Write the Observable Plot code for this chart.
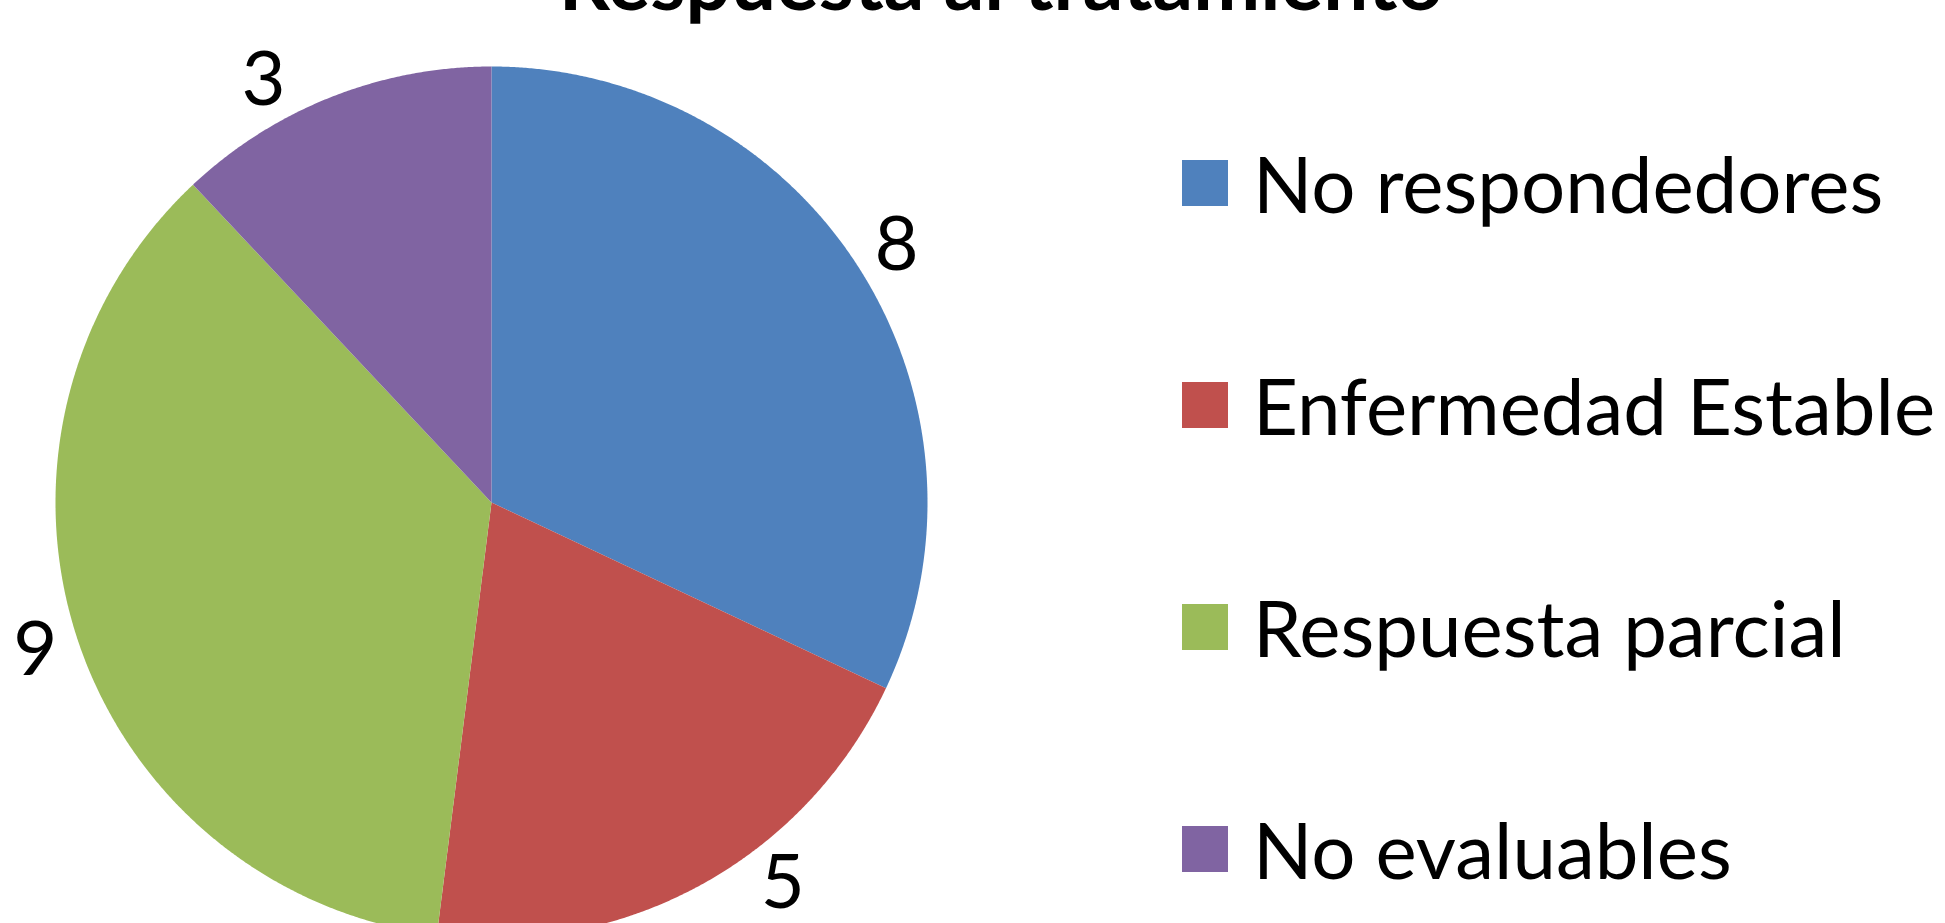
<!DOCTYPE html>
<html>
<head>
<meta charset="utf-8">
<script src="https://cdn.jsdelivr.net/npm/d3@7"></script>
<script src="https://cdn.jsdelivr.net/npm/@observablehq/plot@0.6"></script>
<style>
  html, body { margin: 0; padding: 0; background: #fff; }
  #wrap { position: relative; width: 1945px; height: 923px; overflow: hidden; font-family: Lato, "Open Sans", sans-serif; }
  #legend { position: absolute; left: 1182px; top: 0; }
  .item { position: absolute; left: 0; display: flex; align-items: center; white-space: nowrap; transform: translateY(-50%); }
  .sw { width: 46px; height: 46px; flex: none; }
  .lab { margin-left: 25px; font-size: 78px; color: #000; line-height: 1; }
</style>
</head>
<body>
<div id="wrap"></div>
<script>
// ---- data ----
const title = "Respuesta al tratamiento";
const categories = ["No respondedores", "Enfermedad Estable", "Respuesta parcial", "No evaluables"];
const values = [8, 5, 9, 3];
const colors = ["#4F81BD", "#C0504D", "#9BBB59", "#8064A2"];

// ---- layout ----
const W = 1945, H = 923;
const cx = 491, cy = 502, R = 436;         // pie centre and radius (px)
const labelR = 1.1;                         // label radius (in pie radii)
const yTop = (cy - 80) / R, yBot = -(H - 40 - cy) / R;

const pie = d3.pie().sort(null).value(d => d.value)(categories.map((c, i) => ({name: c, value: values[i]})));

const pts = [];
for (const s of pie) {
  const a0 = s.startAngle, a1 = s.endAngle;
  const n = Math.max(2, Math.ceil((a1 - a0) / (Math.PI / 720)));
  pts.push({name: s.data.name, x: 0, y: 0});
  for (let k = 0; k <= n; k++) {
    const a = a0 + (a1 - a0) * k / n;
    pts.push({name: s.data.name, x: Math.sin(a), y: Math.cos(a)});
  }
  pts.push({name: s.data.name, x: 0, y: 0});
}

const labels = pie.map(s => {
  const m = (s.startAngle + s.endAngle) / 2;
  let x = labelR * Math.sin(m), y = labelR * Math.cos(m);
  const side = Math.sign(x) || 1;
  if (y > yTop) { y = yTop; x = side * Math.sqrt(Math.max(0, labelR * labelR - y * y)); }
  if (y < yBot) { y = yBot; x = side * Math.sqrt(Math.max(0, labelR * labelR - y * y)); }
  return {x, y, text: String(s.data.value)};
});

const chart = Plot.plot({
  width: W, height: H,
  marginTop: 0, marginBottom: 0, marginLeft: 0, marginRight: 0,
  style: {background: "transparent", fontFamily: "Lato, 'Open Sans', sans-serif", overflow: "visible"},
  x: {domain: [-cx / R, (W - cx) / R], range: [0, W], axis: null},
  y: {domain: [-(H - cy) / R, cy / R], range: [H, 0], axis: null},
  color: {type: "ordinal", domain: categories, range: colors},
  marks: [
    Plot.line(pts, {x: "x", y: "y", z: "name", fill: "name", stroke: null, curve: "linear"}),
    Plot.text(labels, {x: "x", y: "y", text: "text", fontSize: 76, fill: "#000"}),
    Plot.text([title], {frameAnchor: "top", text: d => d, dx: 28, dy: -47, fontSize: 80, fontWeight: "bold", fill: "#000"})
  ]
});
const wrap = document.getElementById("wrap");
wrap.appendChild(chart);

// legend
const leg = document.createElement("div");
leg.id = "legend";
const rowY = [183, 405, 627, 849];
categories.forEach((c, i) => {
  const it = document.createElement("div");
  it.className = "item";
  it.style.top = rowY[i] + "px";
  const sw = document.createElement("div");
  sw.className = "sw";
  sw.style.background = colors[i];
  const lab = document.createElement("span");
  lab.className = "lab";
  lab.textContent = c;
  it.appendChild(sw); it.appendChild(lab);
  leg.appendChild(it);
});
wrap.appendChild(leg);
</script>
</body>
</html>
